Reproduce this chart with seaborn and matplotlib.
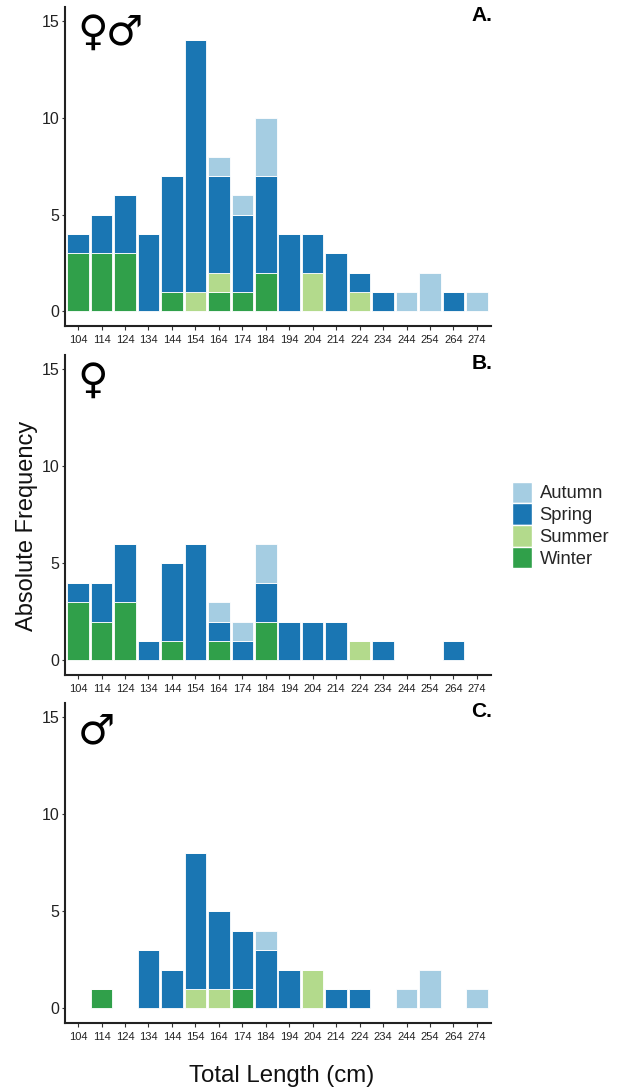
import matplotlib
matplotlib.use("Agg")
import matplotlib.pyplot as plt
from matplotlib.patches import Patch
import seaborn as sns

sns.set_theme(style="ticks")
plt.rcParams['font.family'] = ['Liberation Sans', 'DejaVu Sans']

lengths = [104, 114, 124, 134, 144, 154, 164, 174, 184, 194, 204, 214, 224, 234, 244, 254, 264, 274]
labels_x = [str(v) for v in lengths]

a_winter = [3, 3, 3, 0, 1, 0, 1, 1, 2, 0, 0, 0, 0, 0, 0, 0, 0, 0]
a_summer = [0, 0, 0, 0, 0, 1, 1, 0, 0, 0, 2, 0, 1, 0, 0, 0, 0, 0]
a_spring = [1, 2, 3, 4, 6, 13, 5, 4, 5, 4, 2, 3, 1, 1, 0, 0, 1, 0]
a_autumn = [0, 0, 0, 0, 0, 0, 1, 1, 3, 0, 0, 0, 0, 0, 1, 2, 0, 1]

b_winter = [3, 2, 3, 0, 1, 0, 1, 0, 2, 0, 0, 0, 0, 0, 0, 0, 0, 0]
b_summer = [0, 0, 0, 0, 0, 0, 0, 0, 0, 0, 0, 0, 1, 0, 0, 0, 0, 0]
b_spring = [1, 2, 3, 1, 4, 6, 1, 1, 2, 2, 2, 2, 0, 1, 0, 0, 1, 0]
b_autumn = [0, 0, 0, 0, 0, 0, 1, 1, 2, 0, 0, 0, 0, 0, 0, 0, 0, 0]

c_winter = [0, 1, 0, 0, 0, 0, 0, 1, 0, 0, 0, 0, 0, 0, 0, 0, 0, 0]
c_summer = [0, 0, 0, 0, 0, 1, 1, 0, 0, 0, 2, 0, 0, 0, 0, 0, 0, 0]
c_spring = [0, 0, 0, 3, 2, 7, 4, 3, 3, 2, 0, 1, 1, 0, 0, 0, 0, 0]
c_autumn = [0, 0, 0, 0, 0, 0, 0, 0, 1, 0, 0, 0, 0, 0, 1, 2, 0, 1]

season_names = ["Winter", "Summer", "Spring", "Autumn"]
season_colors = ["#30a04a", "#b3da8c", "#1a76b3", "#a5cde2"]

panels = [
    ("A.", ["♀", "♂"], [a_winter, a_summer, a_spring, a_autumn]),
    ("B.", ["♀"], [b_winter, b_summer, b_spring, b_autumn]),
    ("C.", ["♂"], [c_winter, c_summer, c_spring, c_autumn]),
]

W, H = 619, 1090
fig = plt.figure(figsize=(W / 100, H / 100), dpi=100, facecolor="white")
tops = [7, 355, 703]
bottoms = [326, 675, 1023]
left, right = 64.5, 491

for (tag, syms, series), t, b in zip(panels, tops, bottoms):
    ax = fig.add_axes([left / W, 1 - b / H, (right - left) / W, (b - t) / H])
    base = [0] * len(lengths)
    for vals, col in zip(series, season_colors):
        sns.barplot(x=labels_x, y=vals, bottom=base, color=col, saturation=1, width=0.92,
                    order=labels_x, ax=ax, edgecolor="white", linewidth=0.6, errorbar=None)
        base = [p + q for p, q in zip(base, vals)]
    ax.set_xlim(-0.58, 17.6)
    ax.set_ylim(-0.75, 15.73)
    ax.set_yticks([0, 5, 10, 15])
    ax.set_xlabel("")
    ax.set_ylabel("")
    sns.despine(ax=ax)
    for s in ("left", "bottom"):
        ax.spines[s].set_linewidth(1.5)
        ax.spines[s].set_color("#222222")
    ax.tick_params(axis="y", labelsize=11.5, length=2.5, width=0.8, pad=1, color="#333333", labelcolor="#222222")
    ax.tick_params(axis="x", labelsize=8, length=3, width=0.8, pad=3.5, color="#333333", labelcolor="#222222")
    if len(syms) == 2:
        xs = [0.0305, 0.097]
        ys = [0.985, 0.985]
    elif tag == "B.":
        xs = [0.0305]
        ys = [0.985]
    else:
        xs = [0.0305]
        ys = [0.977]
    for s, x0, y0 in zip(syms, xs, ys):
        ax.text(x0, y0, s, transform=ax.transAxes, family="DejaVu Sans",
                fontsize=30, va="top", ha="left", color="black")
    ax.text(1.003, 0.973, tag, transform=ax.transAxes, fontsize=15, fontweight="bold",
            ha="right", va="center", color="black")

fig.text(27 / W, 1 - 526 / H, "Absolute Frequency", rotation=90, fontsize=17, ha="center", va="center", color="#111111")
fig.text(282 / W, 1 - 1076 / H, "Total Length (cm)", fontsize=17.3, ha="center", va="center", color="#111111")

order = ["Autumn", "Spring", "Summer", "Winter"]
handles = [Patch(facecolor=season_colors[season_names.index(n)], edgecolor="white", label=n) for n in order]
fig.legend(handles=handles, loc="center left", bbox_to_anchor=(511.5 / W, 1 - 525 / H), frameon=False,
           fontsize=13.2, handlelength=1.1, handleheight=1.4, labelspacing=0.04, handletextpad=0.43, borderaxespad=0, borderpad=0)

fig.savefig("out.png", dpi=100)
